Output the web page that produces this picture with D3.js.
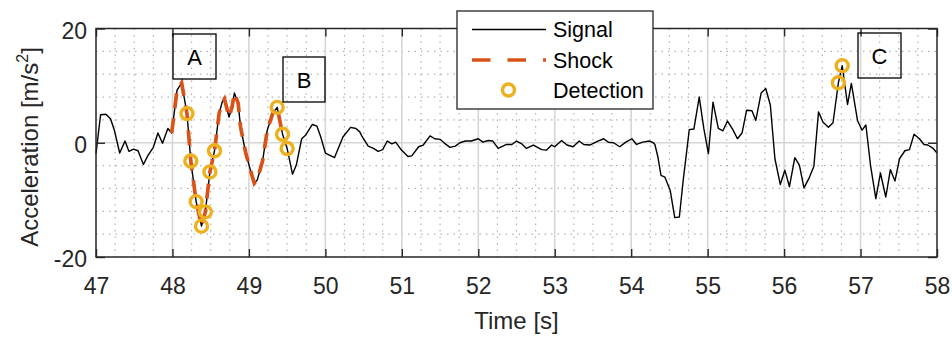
<!DOCTYPE html>
<html>
<head>
<meta charset="utf-8">
<script src="https://cdn.jsdelivr.net/npm/d3@7"></script>
<style>
  body { margin: 0; background: #fff; }
  svg { display: block; font-family: "Liberation Sans", Arial, Helvetica, sans-serif; }
</style>
</head>
<body>
<svg id="chart" width="952" height="340"></svg>
<script>
// signal samples (time in s, acceleration in m/s^2)
const times = [
  47.00, 47.06, 47.13, 47.19, 47.24, 47.31, 47.38, 47.43, 47.49, 47.55,
  47.62, 47.68, 47.75, 47.81, 47.87, 47.94, 47.99, 48.06, 48.12, 48.16,
  48.19, 48.24, 48.31, 48.38, 48.43, 48.49, 48.55, 48.61, 48.65, 48.68,
  48.74, 48.78, 48.81, 48.86, 48.89, 48.96, 49.02, 49.07, 49.11, 49.18,
  49.24, 49.31, 49.37, 49.44, 49.50, 49.57, 49.62, 49.69, 49.74, 49.83,
  49.89, 49.94, 50.00, 50.12, 50.23, 50.33, 50.40, 50.45, 50.48, 50.56,
  50.63, 50.69, 50.75, 50.81, 50.87, 50.92, 50.99, 51.08, 51.13, 51.22,
  51.28, 51.37, 51.43, 51.50, 51.56, 51.63, 51.70, 51.76, 51.83, 51.91,
  52.00, 52.06, 52.13, 52.19, 52.26, 52.37, 52.44, 52.50, 52.57, 52.63,
  52.72, 52.83, 52.89, 52.96, 53.00, 53.09, 53.16, 53.24, 53.32, 53.38,
  53.46, 53.55, 53.64, 53.70, 53.77, 53.85, 53.93, 54.01, 54.07, 54.15,
  54.24, 54.29, 54.31, 54.35, 54.39, 54.44, 54.51, 54.57, 54.63, 54.68,
  54.76, 54.82, 54.89, 54.95, 55.01, 55.07, 55.14, 55.20, 55.26, 55.33,
  55.39, 55.45, 55.51, 55.58, 55.63, 55.70, 55.76, 55.82, 55.88, 55.95,
  56.01, 56.07, 56.14, 56.20, 56.26, 56.33, 56.39, 56.45, 56.51, 56.58,
  56.64, 56.71, 56.76, 56.83, 56.88, 56.96, 57.02, 57.07, 57.13, 57.20,
  57.26, 57.33, 57.39, 57.45, 57.51, 57.58, 57.64, 57.70, 57.77, 57.83,
  57.88, 57.95, 58.00
];
const accel = [
  -1.9, 4.9, 5.0, 4.2, 2.2, -1.8, 0.3, -1.5, -1.1, -1.4,
  -3.8, -2.2, -0.8, 1.7, -0.1, 2.5, 1.7, 9.2, 10.5, 7.4,
  5.1, -3.2, -10.3, -14.6, -12.1, -5.1, -1.4, 5.1, 7.1, 7.7,
  4.5, 6.3, 8.7, 6.9, 2.8, -1.9, -4.8, -7.1, -6.5, -3.1,
  2.2, 5.1, 6.2, 1.5, -1.0, -5.5, -3.9, 0.7, 1.3, 3.2,
  2.9, 1.0, -1.8, -2.6, 1.0, 2.7, 2.5, 1.9, 1.1, -0.6,
  -1.0, -1.5, -1.2, 0.3, -0.2, 0.1, -1.2, -2.4, -2.3, -0.7,
  -0.4, 1.2, 0.7, 0.6, -0.1, -0.8, -0.6, 0.0, 0.3, 0.3,
  0.7, 0.1, 0.4, 0.3, -1.0, -0.3, -0.3, 0.3, -0.2, -1.0,
  -0.4, -1.2, -1.3, -0.4, -0.7, 0.4, -0.4, -0.7, 0.3, -0.3,
  -0.4, 0.2, 0.7, 0.1, 0.0, -0.7, 0.1, 0.7, -0.3, 0.1,
  0.3, 0.0, -0.3, -2.5, -5.7, -6.0, -8.3, -13.1, -13.0, -6.6,
  2.3, 2.4, 8.0, 2.5, -1.9, 7.1, 2.5, 2.1, 3.8, 2.3,
  0.7, 1.7, 5.7, 5.6, 3.9, 8.7, 9.5, 6.6, -2.8, -7.3,
  -4.8, -7.7, -2.6, -3.9, -7.9, -6.1, -4.1, 5.4, 3.6, 2.7,
  3.5, 10.5, 13.5, 6.7, 10.4, 3.9, 2.2, 3.1, -3.9, -9.8,
  -5.3, -9.5, -4.7, -6.7, -2.8, -1.4, -1.2, 1.5, 0.7, -0.3,
  -0.4, -1.0, -1.8
];

// shock window (s)
const shockStart = 47.98;
const shockEnd = 49.45;

// detections
const detTimes  = [48.19, 48.24, 48.31, 48.38, 48.43, 48.49, 48.55, 49.37, 49.44, 49.50, 56.71, 56.76];
const detValues = [5.1, -3.2, -10.3, -14.6, -12.1, -5.1, -1.4, 6.2, 1.5, -1.0, 10.5, 13.5];

const xTicks = d3.range(47, 59);
const yTicks = [-20, 0, 20];
const legendLabels = ["Signal", "Shock", "Detection"];
const boxLabels = ["A", "B", "C"];

const colors = { signal: "#000000", shock: "#D95319", det: "#EDB120", axis: "#262626" };

const svg = d3.select("#chart");
const pLeft = 96, pRight = 937, pTop = 28.5, pBottom = 257;

const x = d3.scaleLinear().domain([47, 58]).range([pLeft, pRight]);
const y = d3.scaleLinear().domain([-20, 20]).range([pBottom, pTop]);

// grid
const grid = svg.append("g");
const xMinor = d3.range(47, 58.001, 0.25).filter(v => Math.abs(v - Math.round(v)) > 1e-6);
const yMinor = d3.range(-16, 17, 4).filter(v => v !== 0);
grid.selectAll(".xm").data(xMinor).join("line")
  .attr("x1", d => x(d)).attr("x2", d => x(d)).attr("y1", pTop).attr("y2", pBottom)
  .attr("stroke", "#b3b3b3").attr("stroke-width", 1.2).attr("stroke-dasharray", "1.5,5");
grid.selectAll(".ym").data(yMinor).join("line")
  .attr("x1", pLeft).attr("x2", pRight).attr("y1", d => y(d)).attr("y2", d => y(d))
  .attr("stroke", "#b3b3b3").attr("stroke-width", 1.2).attr("stroke-dasharray", "1.5,5");
grid.selectAll(".xg").data(xTicks.slice(1, -1)).join("line")
  .attr("x1", d => x(d)).attr("x2", d => x(d)).attr("y1", pTop).attr("y2", pBottom)
  .attr("stroke", "#d6d6d6").attr("stroke-width", 1.6);
grid.selectAll(".yg").data([0]).join("line")
  .attr("x1", pLeft).attr("x2", pRight).attr("y1", d => y(d)).attr("y2", d => y(d))
  .attr("stroke", "#d6d6d6").attr("stroke-width", 1.6);

// data
const pts = times.map((t, i) => ({ t: t, v: accel[i] }));
const line = d3.line().x(d => x(d.t)).y(d => y(d.v));

svg.append("path").datum(pts)
  .attr("d", line).attr("fill", "none")
  .attr("stroke", colors.signal).attr("stroke-width", 1.4).attr("stroke-linejoin", "round");

svg.append("path").datum(pts.filter(d => d.t >= shockStart && d.t <= shockEnd))
  .attr("d", line).attr("fill", "none")
  .attr("stroke", colors.shock).attr("stroke-width", 3.7).attr("stroke-dasharray", "15,10");

svg.append("g").selectAll("circle")
  .data(detTimes.map((t, i) => ({ t: t, v: detValues[i] })))
  .join("circle")
  .attr("cx", d => x(d.t)).attr("cy", d => y(d.v)).attr("r", 6)
  .attr("fill", "none").attr("stroke", colors.det).attr("stroke-width", 3.4);

// axes
const tickFont = "23px";
const gx = svg.append("g").attr("transform", `translate(0,${pBottom})`)
  .call(d3.axisBottom(x).tickValues(xTicks).tickSize(-8).tickFormat(d3.format("d")));
gx.selectAll("text").attr("y", 36.5).attr("dy", null).style("font-size", tickFont).attr("fill", colors.axis);

svg.append("g").attr("transform", `translate(0,${pTop})`)
  .call(d3.axisTop(x).tickValues(xTicks).tickSize(-8).tickFormat(""));

const gy = svg.append("g").attr("transform", `translate(${pLeft},0)`)
  .call(d3.axisLeft(y).tickValues(yTicks).tickSize(-9).tickFormat(d => d < 0 ? "-" + Math.abs(d) : d));
gy.selectAll("text").attr("x", -9).attr("dy", "0.42em").style("font-size", tickFont).attr("fill", colors.axis);

svg.append("g").attr("transform", `translate(${pRight},0)`)
  .call(d3.axisRight(y).tickValues(yTicks).tickSize(-9).tickFormat(""));

svg.selectAll(".domain").remove();
svg.selectAll(".tick line").attr("stroke", colors.axis).attr("stroke-width", 1.4);

svg.append("rect")
  .attr("x", pLeft).attr("y", pTop).attr("width", pRight - pLeft).attr("height", pBottom - pTop)
  .attr("fill", "none").attr("stroke", colors.axis).attr("stroke-width", 1.5);

// axis labels
svg.append("text")
  .attr("x", (pLeft + pRight) / 2).attr("y", 329)
  .attr("text-anchor", "middle").style("font-size", "24px").attr("fill", colors.axis)
  .text("Time [s]");

const yl = svg.append("text")
  .attr("transform", "translate(38,147) rotate(-90)")
  .attr("text-anchor", "middle").style("font-size", "24px").attr("fill", colors.axis);
yl.append("tspan").text("Acceleration [m/s");
yl.append("tspan").attr("dy", -10).style("font-size", "16px").text("2");
yl.append("tspan").attr("dy", 10).text("]");

// annotation boxes
const boxPos = [
  { x: 173, y: 34, w: 43, h: 45 },
  { x: 283, y: 57, w: 42, h: 45 },
  { x: 858, y: 33, w: 43, h: 45 }
];
const boxes = svg.append("g").selectAll("g").data(boxLabels).join("g");
boxes.append("rect")
  .attr("x", (d, i) => boxPos[i].x).attr("y", (d, i) => boxPos[i].y)
  .attr("width", (d, i) => boxPos[i].w).attr("height", (d, i) => boxPos[i].h)
  .attr("fill", "none").attr("stroke", "#000").attr("stroke-width", 1.3);
boxes.append("text")
  .attr("x", (d, i) => boxPos[i].x + boxPos[i].w / 2)
  .attr("y", (d, i) => boxPos[i].y + boxPos[i].h / 2 + 8)
  .attr("text-anchor", "middle").style("font-size", "22px").attr("fill", "#000")
  .text(d => d);

// legend
const lg = svg.append("g");
lg.append("rect").attr("x", 457).attr("y", 11).attr("width", 196).attr("height", 98)
  .attr("fill", "#fff").attr("stroke", colors.axis).attr("stroke-width", 1.3);
const rows = [29.5, 60, 90];
lg.append("line").attr("x1", 472).attr("x2", 546).attr("y1", rows[0]).attr("y2", rows[0])
  .attr("stroke", colors.signal).attr("stroke-width", 1.4);
lg.append("line").attr("x1", 472).attr("x2", 546).attr("y1", rows[1]).attr("y2", rows[1])
  .attr("stroke", colors.shock).attr("stroke-width", 3.7).attr("stroke-dasharray", "18.5,17");
lg.append("circle").attr("cx", 508.5).attr("cy", rows[2]).attr("r", 6)
  .attr("fill", "none").attr("stroke", colors.det).attr("stroke-width", 3.4);
lg.selectAll("text").data(legendLabels).join("text")
  .attr("x", 553).attr("y", (d, i) => rows[i] + 7.8)
  .style("font-size", "21.5px").attr("fill", "#000")
  .text(d => d);
</script>
</body>
</html>
